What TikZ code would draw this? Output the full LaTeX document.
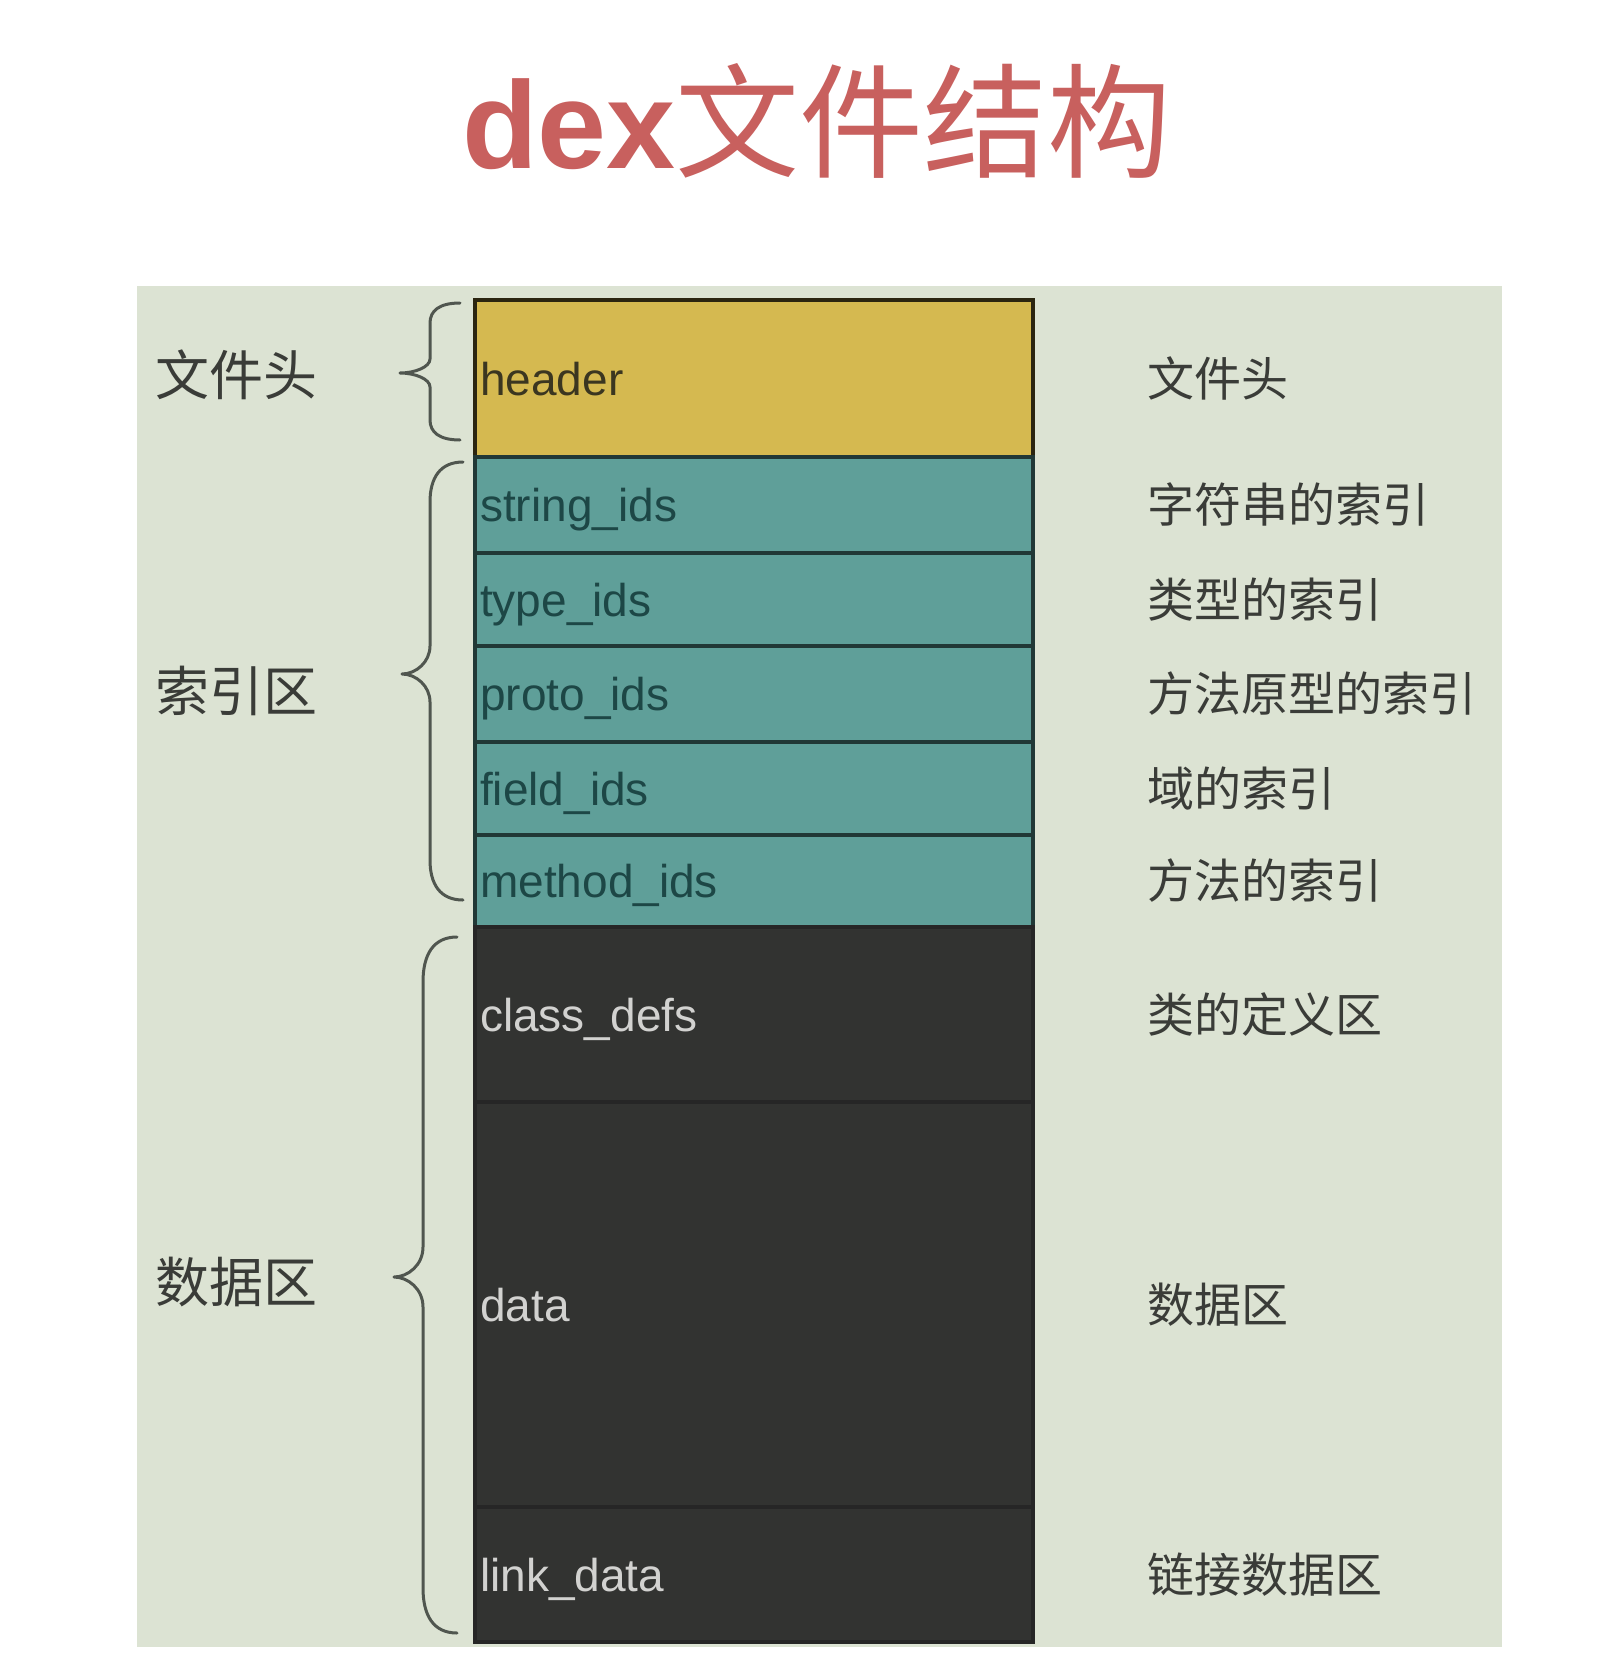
\documentclass[tikz,border=0pt]{standalone}
\usepackage{fontspec}
\setmainfont{Liberation Sans}
\newfontfamily\cjk{Noto Sans CJK SC}
\definecolor{bgc}{HTML}{DCE3D3}
\definecolor{hdrc}{HTML}{D5B950}
\definecolor{tealc}{HTML}{5F9F99}
\definecolor{darkc}{HTML}{323331}
\definecolor{titlec}{HTML}{C8605E}
\definecolor{bracec}{HTML}{50564F}
\definecolor{labc}{HTML}{3A3C38}
\definecolor{hdrtext}{HTML}{3B3620}
\definecolor{tealtext}{HTML}{1D4746}
\definecolor{darktext}{HTML}{D2D2D0}
\begin{document}
\begin{tikzpicture}[x=1pt,y=-1pt,
  colbox/.style={rectangle, inner sep=0pt, minimum width=558pt, anchor=north west, line width=3.5pt},
  hdrbox/.style={colbox, fill=hdrc, draw=black!80!hdrc},
  idbox/.style={colbox, fill=tealc, draw=black!65!tealc},
  databox/.style={colbox, fill=darkc, draw=black!85},
  boxtext/.style={anchor=west, inner sep=0pt, text height=34pt, text depth=0pt, font=\fontsize{46}{50}\selectfont},
  rlab/.style={anchor=west, inner sep=0pt, text height=36pt, text depth=0pt, text=labc, font=\fontsize{47}{50}\selectfont\cjk},
  llab/.style={anchor=west, inner sep=0pt, text height=41pt, text depth=0pt, text=labc, font=\fontsize{54}{58}\selectfont\cjk},
  bracestyle/.style={draw=bracec, line width=3pt, line cap=round, line join=round}]
\useasboundingbox (0,0) rectangle (1622,1672);
\fill[white] (0,0) rectangle (1622,1672);
\fill[bgc] (137,286) rectangle (1502,1647);

% title
\node[anchor=base, inner sep=0pt, text=titlec] (title) at (817,169)
  {\fontsize{124}{130}\selectfont\bfseries dex\cjk\mdseries 文件结构};

% column boxes
\node[hdrbox, minimum height=157pt] (header) at (473,298) {};
\node[idbox, minimum height=96pt] (string) at (473,455) {};
\node[idbox, minimum height=93pt] (type) at (473,551) {};
\node[idbox, minimum height=96pt] (proto) at (473,644) {};
\node[idbox, minimum height=93pt] (field) at (473,740) {};
\node[idbox, minimum height=92pt] (method) at (473,833) {};
\node[databox, minimum height=175pt] (class) at (473,925) {};
\node[databox, minimum height=405pt] (data) at (473,1100) {};
\node[databox, minimum height=135pt] (link) at (473,1505) {};

% box texts
\node[boxtext, text=hdrtext] (t-header) at ([xshift=7pt]header.west) {header};
\node[boxtext, text=tealtext] (t-string) at ([xshift=7pt]string.west) {string\_ids};
\node[boxtext, text=tealtext] (t-type) at ([xshift=7pt]type.west) {type\_ids};
\node[boxtext, text=tealtext] (t-proto) at ([xshift=7pt]proto.west) {proto\_ids};
\node[boxtext, text=tealtext] (t-field) at ([xshift=7pt]field.west) {field\_ids};
\node[boxtext, text=tealtext] (t-method) at ([xshift=7pt]method.west) {method\_ids};
\node[boxtext, text=darktext] (t-class) at ([xshift=7pt]class.west) {class\_defs};
\node[boxtext, text=darktext] (t-data) at ([xshift=7pt]data.west) {data};
\node[boxtext, text=darktext] (t-link) at ([xshift=7pt]link.west) {link\_data};

% right descriptions
\node[rlab] (r-header) at (1147,0 |- header.west) {文件头};
\node[rlab] (r-string) at (1147,0 |- string.west) {字符串的索引};
\node[rlab] (r-type) at (1147,0 |- type.west) {类型的索引};
\node[rlab] (r-proto) at (1147,0 |- proto.west) {方法原型的索引};
\node[rlab] (r-field) at (1147,0 |- field.west) {域的索引};
\node[rlab] (r-method) at (1147,0 |- method.west) {方法的索引};
\node[rlab] (r-class) at (1147,0 |- class.west) {类的定义区};
\node[rlab] (r-data) at (1147,0 |- data.west) {数据区};
\node[rlab] (r-link) at (1147,0 |- link.west) {链接数据区};

% left group labels
\node[llab] (l-head) at (155,375) {文件头};
\node[llab] (l-index) at (155,691) {索引区};
\node[llab] (l-data) at (155,1282) {数据区};

% braces
\draw[bracestyle] (460,303) .. controls (439,303) and (430,311) .. (430,323) -- (430,359)
  .. controls (430,367) and (415,373) .. (400,373)
  .. controls (415,373) and (430,379) .. (430,387) -- (430,420)
  .. controls (430,432) and (439,440) .. (460,440);
\draw[bracestyle] (463,462) .. controls (440,462) and (430,478) .. (430,502) -- (430,646)
  .. controls (430,662) and (416,674) .. (402,674)
  .. controls (416,674) and (430,686) .. (430,702) -- (430,860)
  .. controls (430,884) and (440,900) .. (463,900);
\draw[bracestyle] (457,937) .. controls (433,937) and (423,955) .. (423,982) -- (423,1247)
  .. controls (423,1265) and (408,1277) .. (394,1277)
  .. controls (408,1277) and (423,1289) .. (423,1307) -- (423,1588)
  .. controls (423,1615) and (433,1633) .. (457,1633);
\end{tikzpicture}
\end{document}
